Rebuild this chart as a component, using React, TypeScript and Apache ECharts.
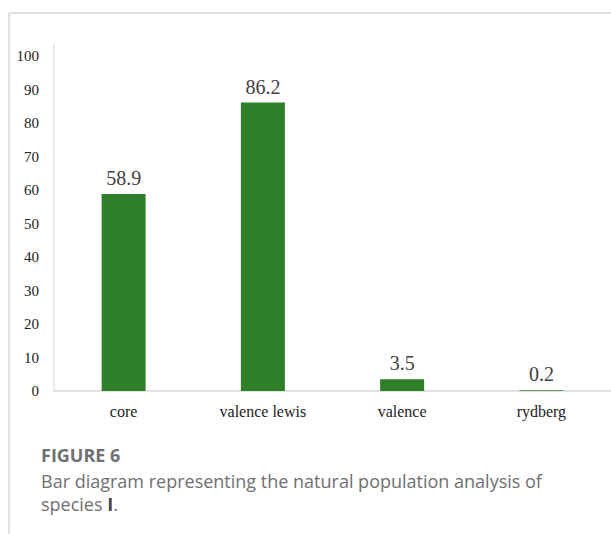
import React, { useEffect, useRef } from "react";
import * as echarts from "echarts";

const categories = ["core", "valence lewis", "valence", "rydberg"];
const values = [58.9, 86.2, 3.5, 0.2];
const captionTitle = "FIGURE 6";
const captionLine1 = "Bar diagram representing the natural population analysis of";
const captionLine2a = "species ";
const captionLine2b = "I";
const captionLine2c = ".";

export default function App() {
  const ref = useRef<HTMLDivElement>(null);
  useEffect(() => {
    if (!ref.current) return;
    const chart = echarts.init(ref.current, undefined, { renderer: "svg" });
    const serif = "Liberation Serif";
    const sans = "Open Sans";
    const capColor = "#707070";
    chart.setOption({
      animation: false,
      backgroundColor: "#ffffff",
      textStyle: { fontFamily: serif },
      grid: { left: 54, top: 44, width: 560, height: 347, containLabel: false },
      xAxis: {
        type: "category",
        data: categories,
        axisLine: { show: true, lineStyle: { color: "#d9d9d9", width: 1.5 } },
        axisTick: { show: false },
        axisLabel: { color: "#222", fontSize: 16, fontFamily: serif, margin: 12 },
      },
      yAxis: {
        type: "value",
        min: 0,
        max: 103.7,
        interval: 10,
        axisLine: { show: true, lineStyle: { color: "#e6e6e6", width: 1.5 } },
        axisTick: { show: false },
        splitLine: { show: false },
        axisLabel: {
          color: "#222",
          fontSize: 15,
          fontFamily: serif,
          margin: 15,
          showMaxLabel: false,
          padding: [0, 0, 3, 0],
        },
      },
      series: [
        {
          type: "bar",
          data: values,
          barWidth: 44,
          itemStyle: { color: "#2f7f2a" },
          label: {
            show: true,
            position: "top",
            distance: 6,
            color: "#404040",
            fontSize: 20,
            fontFamily: serif,
          },
        },
      ],
      graphic: [
        { type: "line", shape: { x1: 9, y1: 13, x2: 611, y2: 13 }, style: { stroke: "#d6d6d6", lineWidth: 1.5 } },
        { type: "line", shape: { x1: 9, y1: 13, x2: 9, y2: 534 }, style: { stroke: "#d6d6d6", lineWidth: 1.5 } },
        {
          type: "text",
          x: 41,
          y: 455,
          style: { text: captionTitle, font: `bold 18px "${sans}"`, fill: capColor, verticalAlign: "middle" },
        },
        {
          type: "text",
          x: 41,
          y: 481,
          style: { text: captionLine1, font: `18px "${sans}"`, fill: capColor, verticalAlign: "middle" },
        },
        {
          type: "text",
          x: 41,
          y: 504,
          style: {
            text: `{a|${captionLine2a}}{b|${captionLine2b}}{a|${captionLine2c}}`,
            verticalAlign: "middle",
            rich: {
              a: { fontFamily: sans, fontSize: 18, fill: capColor },
              b: { fontFamily: sans, fontSize: 18, fontWeight: "bold", fill: "#444" },
            },
          },
        },
      ],
    });
    return () => chart.dispose();
  }, []);
  return (
    <div
      ref={ref}
      style={{ position: "fixed", left: 0, top: 0, width: 611, height: 534 }}
    />
  );
}
